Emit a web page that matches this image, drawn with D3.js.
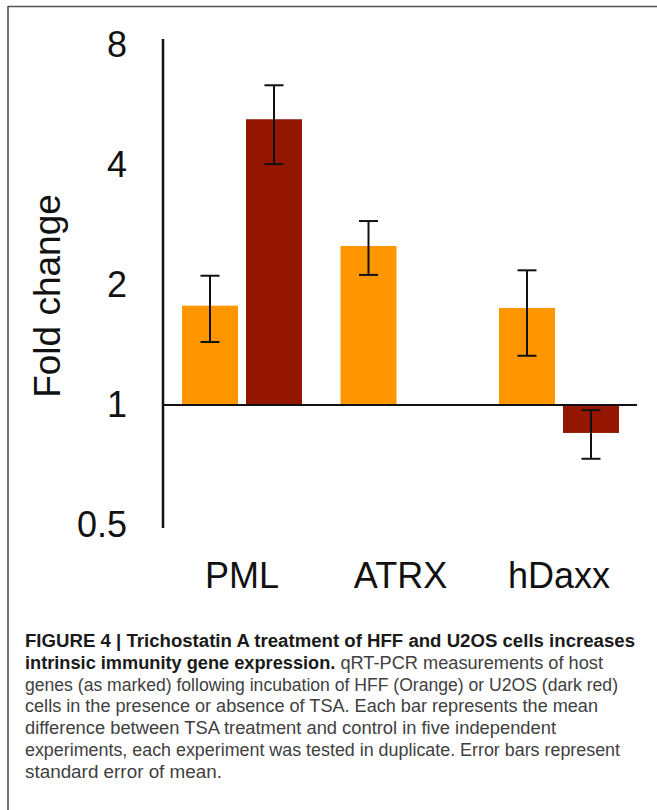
<!DOCTYPE html>
<html lang="en">
<head>
  <meta charset="UTF-8">
  <title>Fold change</title>
  <style>
    body { margin: 0; background: #fff; }
    svg { display: block; font-family: "Liberation Sans", Arial, sans-serif; }
    .tick text { font-size: 36px; fill: #111; }
    .cat { font-size: 36px; fill: #111; }
    .caption { font-size: 17.5px; fill: #404040; }
    .caption .b { font-weight: bold; fill: #1a1a1a; }
  </style>
</head>
<body>
  <script src="https://d3js.org/d3.v7.min.js"></script>
  <script>
    // data
    const genes = ["PML", "ATRX", "hDaxx"];
    const cellLines = ["HFF", "U2OS"];
    const hffMean = [1.775, 2.506, 1.752];
    const hffLow  = [1.439, 2.12, 1.329];
    const hffHigh = [2.11, 2.894, 2.177];
    const u2osMean = [5.21, null, 0.851];
    const u2osLow  = [4.02, null, 0.733];
    const u2osHigh = [6.34, null, 0.971];
    const yTicks = [0.5, 1, 2, 4, 8];

    const caption = [
      [["b", "FIGURE 4 | Trichostatin A treatment of HFF and U2OS cells increases"]],
      [["b", "intrinsic immunity gene expression."], ["", " qRT-PCR measurements of host"]],
      [["", "genes (as marked) following incubation of HFF (Orange) or U2OS (dark red)"]],
      [["", "cells in the presence or absence of TSA. Each bar represents the mean"]],
      [["", "difference between TSA treatment and control in five independent"]],
      [["", "experiments, each experiment was tested in duplicate. Error bars represent"]],
      [["", "standard error of mean."]]
    ];
    const captionWidths = [610, 578, 593, 573, 531, 595, 197];

    const colors = { HFF: "#ff9600", U2OS: "#951600" };

    // rows for drawing
    const rows = [];
    genes.forEach((g, i) => {
      rows.push({ gene: g, cell: "HFF", v: hffMean[i], lo: hffLow[i], hi: hffHigh[i] });
      if (u2osMean[i] != null)
        rows.push({ gene: g, cell: "U2OS", v: u2osMean[i], lo: u2osLow[i], hi: u2osHigh[i] });
    });

    const width = 657, height = 810;
    const svg = d3.select("body").append("svg")
      .attr("width", width)
      .attr("height", height);

    // frame (top and left edge)
    svg.append("line").attr("x1", 8).attr("x2", width).attr("y1", 6.5).attr("y2", 6.5)
      .attr("stroke", "#555").attr("stroke-width", 1.6);
    svg.append("line").attr("x1", 8).attr("x2", 8).attr("y1", 6).attr("y2", height)
      .attr("stroke", "#555").attr("stroke-width", 1.6);

    // scales
    const y = d3.scaleLog().base(2).domain([0.5, 8]).range([525, 45]);
    const x0 = d3.scaleBand().domain(genes).range([163, 638])
      .paddingInner(0.243).paddingOuter(0.12);
    const x1 = d3.scaleBand().domain(cellLines).range([0, x0.bandwidth()])
      .paddingInner(0.125);

    // bars
    svg.append("g").selectAll("rect")
      .data(rows)
      .join("rect")
        .attr("x", d => x0(d.gene) + x1(d.cell))
        .attr("width", x1.bandwidth())
        .attr("y", d => Math.min(y(d.v), y(1)))
        .attr("height", d => Math.abs(y(d.v) - y(1)))
        .attr("fill", d => colors[d.cell]);

    // baseline at 1
    svg.append("line")
      .attr("x1", 163).attr("x2", 637)
      .attr("y1", y(1)).attr("y2", y(1))
      .attr("stroke", "#111").attr("stroke-width", 2);

    // error bars
    const err = svg.append("g").attr("stroke", "#111").attr("stroke-width", 2);
    const cx = d => x0(d.gene) + x1(d.cell) + x1.bandwidth() / 2;
    err.selectAll(".v").data(rows).join("line")
      .attr("x1", cx).attr("x2", cx)
      .attr("y1", d => y(d.lo)).attr("y2", d => y(d.hi));
    ["lo", "hi"].forEach(k => {
      err.selectAll(".c" + k).data(rows).join("line")
        .attr("x1", d => cx(d) - 9.5).attr("x2", d => cx(d) + 9.5)
        .attr("y1", d => y(d[k])).attr("y2", d => y(d[k]));
    });

    // y axis
    const yAxis = svg.append("g")
      .attr("transform", "translate(163,0)")
      .call(d3.axisLeft(y).tickValues(yTicks).tickSize(0).tickPadding(36)
        .tickFormat(d3.format("")));
    yAxis.select(".domain").remove();
    yAxis.selectAll(".tick text").attr("font-family", null).attr("font-size", null);
    svg.append("line")
      .attr("x1", 163).attr("x2", 163)
      .attr("y1", y(8) - 6).attr("y2", y(0.5) + 3)
      .attr("stroke", "#111").attr("stroke-width", 2.5);

    svg.append("text")
      .attr("transform", "translate(60,296) rotate(-90)")
      .attr("text-anchor", "middle")
      .attr("font-size", 37)
      .attr("fill", "#111")
      .text("Fold change");

    // category labels
    svg.append("g").selectAll("text")
      .data(genes)
      .join("text")
        .attr("class", "cat")
        .attr("x", d => x0(d) + x0.bandwidth() / 2)
        .attr("y", 588)
        .attr("text-anchor", "middle")
        .text(d => d);

    // caption
    const cap = svg.append("g").attr("class", "caption");
    caption.forEach((line, i) => {
      const t = cap.append("text")
        .attr("x", 25)
        .attr("y", 647 + i * 21.8)
        .attr("textLength", captionWidths[i])
        .attr("lengthAdjust", "spacingAndGlyphs");
      line.forEach(([cls, s]) => {
        t.append("tspan").attr("class", cls || null).text(s);
      });
    });
  </script>
</body>
</html>
